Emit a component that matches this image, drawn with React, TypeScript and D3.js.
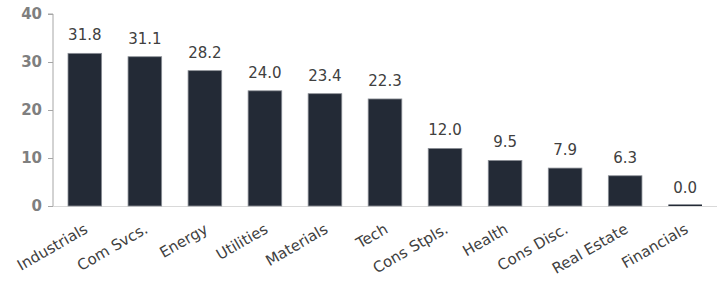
import React, { useEffect, useRef } from 'react';
import * as d3 from 'd3';

const categories = ['Industrials', 'Com Svcs.', 'Energy', 'Utilities', 'Materials', 'Tech', 'Cons Stpls.', 'Health', 'Cons Disc.', 'Real Estate', 'Financials'];
const values = [31.8, 31.1, 28.2, 24.0, 23.4, 22.3, 12.0, 9.5, 7.9, 6.3, 0.0];
const yTicks = [0, 10, 20, 30, 40];

const App = () => {
    const ref = useRef<SVGSVGElement>(null);
    const width = 723;
    const height = 284;

    useEffect(() => {
        const svg = d3.select(ref.current);
        svg.selectAll('*').remove();

        const margin = { top: 14, right: 6, bottom: 78, left: 53 };
        const font = '"DejaVu Sans", sans-serif';

        const x = d3.scaleBand()
            .domain(categories)
            .range([margin.left, width - margin.right])
            .paddingInner(0.44)
            .paddingOuter(0.25);

        const y = d3.scaleLinear()
            .domain([0, 40])
            .range([height - margin.bottom, margin.top]);

        // y axis
        const yAxis = svg.append('g')
            .attr('transform', `translate(${margin.left},0)`)
            .call(d3.axisLeft(y).tickValues(yTicks).tickSize(5).tickPadding(6));
        yAxis.select('.domain').attr('stroke', '#a6a6a6').attr('d', `M-5,${y(40)}H0V${y(0)}`);
        yAxis.selectAll('.tick line').attr('stroke', '#a6a6a6');
        yAxis.selectAll('.tick text')
            .attr('fill', '#7f7f7f')
            .style('font-family', font)
            .style('font-weight', 'bold')
            .style('font-size', '15px');

        // x baseline (under the bars)
        svg.append('line')
            .attr('x1', margin.left)
            .attr('x2', width - margin.right)
            .attr('y1', y(0) + 0.5)
            .attr('y2', y(0) + 0.5)
            .attr('stroke', '#d9d9d9')
            .attr('stroke-width', 1.2);

        // bars
        svg.append('g')
            .selectAll('rect')
            .data(values)
            .join('rect')
            .attr('x', (d, i) => x(categories[i]))
            .attr('y', d => Math.min(y(d), y(0) - 1.5))
            .attr('width', x.bandwidth())
            .attr('height', d => Math.max(1.5, y(0) - y(d)))
            .attr('fill', '#232a36')
            .attr('stroke', d => d > 0 ? '#8c9097' : 'none')
            .attr('stroke-width', 0.8);

        // value labels
        svg.append('g')
            .selectAll('text')
            .data(values)
            .join('text')
            .attr('x', (d, i) => x(categories[i]) + x.bandwidth() / 2)
            .attr('y', d => y(d) - 13)
            .attr('text-anchor', 'middle')
            .attr('fill', '#404040')
            .style('font-family', font)
            .style('font-size', '15px')
            .text(d => d.toFixed(1));

        // category labels
        svg.append('g')
            .selectAll('text')
            .data(categories)
            .join('text')
            .attr('transform', d => `translate(${x(d) + x.bandwidth() / 2 + 4},${y(0) + 26}) rotate(-30)`)
            .attr('text-anchor', 'end')
            .attr('fill', '#404040')
            .style('font-family', font)
            .style('font-size', '15px')
            .text(d => d);
    }, []);

    return (
        <svg ref={ref} width={width} height={height} style={{ position: 'fixed', left: 0, top: 0, background: '#fff' }}></svg>
    );
};

export default App;
